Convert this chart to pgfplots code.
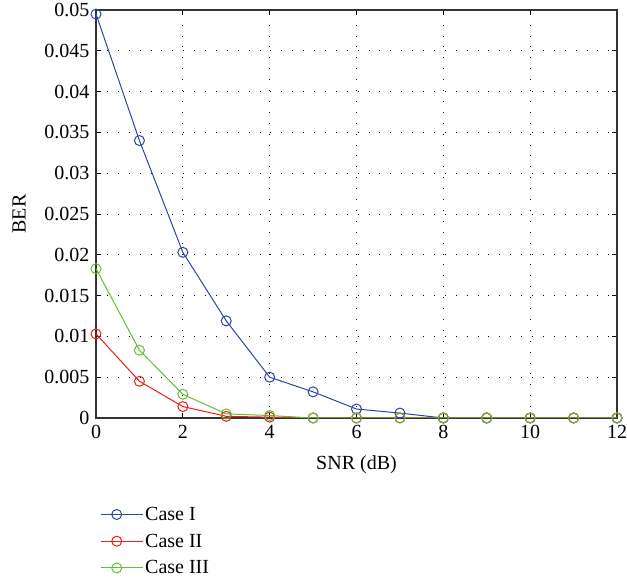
\documentclass[border=0pt]{standalone}
\usepackage{fontspec}
\setmainfont{Liberation Serif}
\usepackage{pgfplots}
\pgfplotsset{compat=1.18}
\definecolor{cI}{RGB}{45,70,170}
\definecolor{cII}{RGB}{235,30,30}
\definecolor{cIII}{RGB}{100,190,60}
\begin{document}
\begin{tikzpicture}
\begin{axis}[
  scale only axis, width=521pt, height=408pt,
  xmin=0, xmax=12, ymin=0, ymax=0.05,
  xtick={0,2,...,12},
  ytick={0,0.005,...,0.05},
  scaled y ticks=false,
  yticklabels={0,0.005,0.01,0.015,0.02,0.025,0.03,0.035,0.04,0.045,0.05},
  tick align=inside,
  xtick pos=both, ytick pos=both,
  major tick length=5pt,
  tick style={black, line width=0.7pt},
  axis line style={line width=1.2pt, black!80},
  grid=major,
  major grid style={black, line width=0.9pt, dash pattern=on 0.9pt off 10pt},
  /pgf/number format/assume math mode=true,
  ticklabel style={font=\fontsize{20}{23}\selectfont},
  label style={font=\fontsize{20}{23}\selectfont},
  xticklabel style={yshift=-4pt},
  yticklabel style={xshift=-3pt},
  xlabel={SNR (dB)}, ylabel={BER},
  xlabel style={yshift=-10pt},
  ylabel style={yshift=12pt},
  every axis plot/.append style={line width=1pt, mark=o, mark size=5pt, mark options={solid, line width=1pt}},
  legend style={draw=none, fill=none, at={(axis description cs:0.0077,-0.213)}, anchor=north west,
    font=\fontsize{20}{23}\selectfont, row sep=8pt, inner xsep=0pt, inner ysep=0pt},
  legend cell align=left,
  legend image code/.code={\draw[#1, mark repeat=2, mark phase=2] plot coordinates {(0pt,0pt) (16pt,0pt) (32pt,0pt)}; \path (0pt,0pt) -- (42pt,0pt);},
]
\addplot[color=cI] coordinates {(0,0.0495)(1,0.0340)(2,0.0203)(3,0.0119)(4,0.0050)(5,0.0032)(6,0.0011)(7,0.0006)(8,0)(9,0)(10,0)(11,0)(12,0)};
\addlegendentry{Case I}
\addplot[color=cII] coordinates {(0,0.0103)(1,0.0045)(2,0.0014)(3,0.0002)(4,0.0001)(5,0)(6,0)(7,0)(8,0)(9,0)(10,0)(11,0)(12,0)};
\addlegendentry{Case II}
\addplot[color=cIII] coordinates {(0,0.0183)(1,0.0083)(2,0.0029)(3,0.0005)(4,0.0003)(5,0)(6,0)(7,0)(8,0)(9,0)(10,0)(11,0)(12,0)};
\addlegendentry{Case III}
\coordinate (bl) at (axis description cs:-0.1843,-0.4044);
\coordinate (tr) at (axis description cs:1.0192,1.0245);
\end{axis}
\pgfresetboundingbox
\useasboundingbox (bl) rectangle (tr);
\end{tikzpicture}
\end{document}
